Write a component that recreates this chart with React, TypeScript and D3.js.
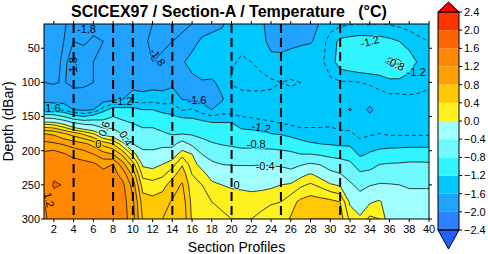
import * as d3 from "d3";
import React from "react";

// section profiles (x) and sampled depths in dBar (y)
const profiles = [
  1, 2, 3, 4, 5, 6, 7, 8, 9, 10, 11, 12, 13, 14, 15, 16, 17, 18, 19, 20,
  21, 22, 23, 24, 25, 26, 27, 28, 29, 30, 31, 32, 33, 34, 35, 36, 37, 38, 39, 40,
];
const depths = [14, 40, 70, 100, 125, 140, 150, 160, 175, 190, 205, 220, 235, 250, 275, 300];

// temperature (°C), one row per profile, one value per depth above
const temperature = [
  [-1.82, -1.84, -1.83, -1.8, -1.72, -1.31, -0.56, 0.15, 0.8, 1.06, 1.25, 1.3, 1.28, 1.22, 1.18, 1.15],
  [-1.83, -1.85, -1.84, -1.81, -1.72, -1.37, -0.6, 0.1, 0.76, 1.03, 1.3, 1.4, 1.52, 1.65, 1.42, 1.32],
  [-1.81, -1.8, -1.78, -1.79, -1.7, -1.45, -0.8, -0.06, 0.62, 0.98, 1.22, 1.38, 1.5, 1.58, 1.45, 1.35],
  [-1.77, -1.8, -1.84, -1.84, -1.72, -1.6, -1.1, -0.33, 0.5, 0.91, 1.14, 1.3, 1.38, 1.42, 1.42, 1.38],
  [-1.77, -1.79, -1.84, -1.83, -1.73, -1.64, -1.2, -0.48, 0.36, 0.85, 1.09, 1.27, 1.36, 1.4, 1.42, 1.4],
  [-1.78, -1.81, -1.8, -1.8, -1.72, -1.6, -1.09, -0.51, 0.2, 0.73, 1.0, 1.24, 1.33, 1.38, 1.4, 1.38],
  [-1.8, -1.8, -1.79, -1.77, -1.7, -1.31, -0.95, -0.65, -0.09, 0.53, 0.88, 1.13, 1.28, 1.33, 1.35, 1.33],
  [-1.8, -1.78, -1.76, -1.74, -1.66, -1.07, -0.8, -0.6, -0.2, 0.4, 0.8, 1.2, 1.28, 1.3, 1.3, 1.28],
  [-1.79, -1.76, -1.75, -1.72, -1.6, -1.1, -0.9, -0.71, -0.45, 0.07, 0.53, 0.88, 1.12, 1.24, 1.28, 1.3],
  [-1.8, -1.74, -1.73, -1.68, -1.5, -1.12, -0.96, -0.8, -0.6, -0.4, 0.13, 0.49, 0.75, 0.92, 1.05, 1.08],
  [-1.79, -1.78, -1.77, -1.72, -1.5, -1.2, -1.04, -0.88, -0.69, -0.51, -0.31, -0.04, 0.14, 0.31, 0.5, 0.58],
  [-1.8, -1.82, -1.8, -1.7, -1.47, -1.2, -1.04, -0.88, -0.69, -0.51, -0.32, -0.08, 0.11, 0.27, 0.47, 0.55],
  [-1.82, -1.82, -1.78, -1.7, -1.5, -1.26, -1.13, -0.98, -0.75, -0.49, -0.24, 0.0, 0.16, 0.32, 0.52, 0.6],
  [-1.83, -1.8, -1.75, -1.65, -1.48, -1.28, -1.17, -1.04, -0.84, -0.52, -0.15, 0.12, 0.33, 0.5, 0.62, 0.7],
  [-1.82, -1.78, -1.63, -1.72, -1.6, -1.42, -1.23, -1.07, -0.82, -0.23, 0.13, 0.38, 0.52, 0.62, 0.72, 0.76],
  [-1.8, -1.7, -1.5, -1.68, -1.62, -1.38, -1.24, -1.08, -0.85, -0.49, 0.0, 0.1, 0.2, 0.28, 0.34, 0.37],
  [-1.75, -1.55, -1.45, -1.62, -1.66, -1.5, -1.3, -1.13, -0.91, -0.67, -0.4, -0.1, 0.1, 0.2, 0.3, 0.35],
  [-1.7, -1.5, -1.45, -1.63, -1.68, -1.6, -1.38, -1.17, -0.97, -0.77, -0.55, -0.33, -0.11, 0.06, 0.2, 0.28],
  [-1.64, -1.48, -1.44, -1.55, -1.62, -1.51, -1.34, -1.18, -1.0, -0.82, -0.61, -0.4, -0.2, 0.0, 0.15, 0.25],
  [-1.5, -1.45, -1.42, -1.38, -1.5, -1.48, -1.35, -1.18, -1.02, -0.85, -0.65, -0.42, -0.22, -0.04, 0.14, 0.2],
  [-1.48, -1.44, -1.38, -1.36, -1.45, -1.46, -1.4, -1.35, -1.07, -0.88, -0.69, -0.42, -0.24, -0.06, 0.14, 0.2],
  [-1.46, -1.42, -1.4, -1.37, -1.43, -1.46, -1.42, -1.3, -1.14, -0.89, -0.67, -0.42, -0.26, -0.08, 0.12, 0.2],
  [-1.55, -1.5, -1.42, -1.38, -1.42, -1.45, -1.43, -1.36, -1.15, -0.92, -0.67, -0.41, -0.25, -0.07, 0.14, 0.25],
  [-1.72, -1.7, -1.5, -1.38, -1.43, -1.46, -1.44, -1.38, -1.2, -0.93, -0.67, -0.43, -0.24, -0.05, 0.18, 0.3],
  [-1.74, -1.72, -1.5, -1.4, -1.42, -1.45, -1.46, -1.4, -1.23, -0.95, -0.7, -0.45, -0.23, 0.0, 0.2, 0.3],
  [-1.73, -1.68, -1.46, -1.39, -1.43, -1.45, -1.46, -1.42, -1.3, -1.0, -0.73, -0.52, -0.26, 0.04, 0.32, 0.42],
  [-1.72, -1.64, -1.45, -1.4, -1.44, -1.45, -1.45, -1.43, -1.36, -1.1, -0.8, -0.44, -0.07, 0.16, 0.45, 0.55],
  [-1.7, -1.62, -1.44, -1.42, -1.44, -1.44, -1.44, -1.42, -1.37, -1.17, -0.8, -0.35, 0.03, 0.23, 0.5, 0.6],
  [-1.58, -1.52, -1.44, -1.42, -1.44, -1.45, -1.44, -1.42, -1.37, -1.2, -0.85, -0.42, -0.09, 0.15, 0.48, 0.6],
  [-1.5, -1.3, -1.32, -1.43, -1.45, -1.45, -1.44, -1.42, -1.36, -1.23, -0.89, -0.6, -0.26, 0.03, 0.46, 0.6],
  [-1.45, -1.15, -1.08, -1.42, -1.46, -1.5, -1.48, -1.44, -1.38, -1.26, -0.93, -0.64, -0.37, -0.03, 0.4, 0.5],
  [-1.42, -1.12, -1.02, -1.42, -1.5, -1.62, -1.5, -1.45, -1.38, -1.26, -1.0, -0.71, -0.55, -0.33, -0.04, 0.15],
  [-1.4, -1.1, -0.98, -1.4, -1.48, -1.5, -1.5, -1.48, -1.44, -1.36, -1.26, -1.0, -0.72, -0.53, -0.19, 0.05],
  [-1.42, -1.1, -0.95, -1.38, -1.5, -1.65, -1.55, -1.47, -1.42, -1.32, -1.17, -0.9, -0.72, -0.42, -0.03, 0.25],
  [-1.4, -1.12, -0.9, -1.36, -1.45, -1.5, -1.5, -1.46, -1.4, -1.3, -1.1, -0.8, -0.58, -0.37, 0.04, 0.2],
  [-1.42, -1.15, -0.72, -1.3, -1.45, -1.5, -1.5, -1.47, -1.42, -1.3, -1.06, -0.77, -0.58, -0.38, -0.22, -0.15],
  [-1.45, -1.2, -0.75, -1.3, -1.45, -1.5, -1.5, -1.46, -1.42, -1.3, -1.04, -0.76, -0.6, -0.4, -0.3, -0.25],
  [-1.45, -1.32, -1.05, -1.32, -1.43, -1.48, -1.49, -1.46, -1.42, -1.3, -1.0, -0.74, -0.58, -0.42, -0.33, -0.3],
  [-1.45, -1.38, -1.25, -1.35, -1.43, -1.47, -1.48, -1.45, -1.42, -1.3, -1.0, -0.74, -0.58, -0.42, -0.33, -0.3],
  [-1.45, -1.4, -1.3, -1.38, -1.43, -1.46, -1.47, -1.45, -1.42, -1.3, -1.0, -0.75, -0.58, -0.42, -0.33, -0.3],
];

const fillLevels = [-2.4, -2.0, -1.6, -1.2, -0.8, -0.4, 0, 0.4, 0.8, 1.2, 1.6, 2.0, 2.4];
const fillColors = [
  "#2060ff", "#2d80ff", "#20a2ff", "#00c8ff", "#30f5ff", "#70f8ff", "#a0ffff",
  "#fff020", "#ffc800", "#ffa000", "#ff8800", "#ff6400", "#ff3300", "#ff0000",
];
const lineLevels = [-1.8, -1.6, -1.4, -1.2, -0.8, -0.4, 0, 0.2, 0.4, 0.6, 0.8, 1.0, 1.2, 1.6];
const dashedLevels = [-1.4];
const sectionBreaks = [4, 8, 10, 14, 20, 25, 31];
const xTicks = [2, 4, 6, 8, 10, 12, 14, 16, 18, 20, 22, 24, 26, 28, 30, 32, 34, 36, 38, 40];
const yTicks = [50, 100, 150, 200, 250, 300];

const contourLabels = [
  { text: "-1.8", profile: 5.3, depth: 22, angle: 0 },
  { text: "-1.8", profile: 4, depth: 77, angle: -90 },
  { text: "-1.8", profile: 12.5, depth: 63, angle: 55 },
  { text: "1.6", profile: 1.9, depth: 138, angle: 0 },
  { text: "-1.2", profile: 9, depth: 128, angle: 0 },
  { text: "-1.6", profile: 16.5, depth: 126, angle: 0 },
  { text: "-1.2", profile: 23, depth: 166, angle: 10 },
  { text: "-0.8", profile: 22.5, depth: 190, angle: 0 },
  { text: "-0.4", profile: 23.4, depth: 222, angle: 0 },
  { text: "0", profile: 20.5, depth: 250, angle: 0 },
  { text: "1.2", profile: 1.5, depth: 272, angle: 75 },
  { text: "-1.2", profile: 34, depth: 40, angle: -15 },
  { text: "-0.8", profile: 36.6, depth: 73, angle: 25 },
  { text: "-1.2", profile: 38.7, depth: 85, angle: 0 },
  { text: "0.6", profile: 7.1, depth: 168, angle: -70 },
  { text: "0", profile: 6.5, depth: 191, angle: 0 },
  { text: "0.4", profile: 9.3, depth: 182, angle: 60 },
];

const FONT = "'Liberation Sans', Arial, Helvetica, sans-serif";

export default function App() {
  const ref = React.useRef<SVGSVGElement | null>(null);

  const width = 488;
  const height = 254;
  const margin = { top: 24, right: 59, bottom: 35, left: 44 };

  const drawElm = (node: SVGSVGElement) => {
    const svg = d3.select(node).attr("width", width).attr("height", height);
    svg.selectAll("*").remove();

    const x0 = margin.left;
    const x1 = width - margin.right;
    const y0 = margin.top;
    const y1 = height - margin.bottom;

    const xScale = d3.scaleLinear().domain([1, 40]).range([x0, x1]);
    const yScale = d3.scaleLinear().domain([14.5, 300]).range([y0, y1]);

    const nx = profiles.length;
    const ny = depths.length;
    const grid: number[] = [];
    for (let j = 0; j < ny; j++) {
      for (let i = 0; i < nx; i++) grid.push(temperature[i][j]);
    }

    // grid index -> data coordinates (piecewise, extrapolates past the edges)
    const colToProfile = d3.scaleLinear().domain(d3.range(nx)).range(profiles);
    const rowToDepth = d3.scaleLinear().domain(d3.range(ny)).range(depths);
    const depthToRow = d3.scaleLinear().domain(depths).range(d3.range(ny));

    const toScreen = d3.geoTransform({
      point: function (gx: number, gy: number) {
        this.stream.point(xScale(colToProfile(gx - 0.5)), yScale(rowToDepth(gy - 0.5)));
      },
    });
    const path = d3.geoPath(toScreen);

    const color = d3.scaleThreshold<number, string>().domain(fillLevels).range(fillColors);

    const sample = (p: number, d: number) => {
      const fx = p - 1;
      const fy = depthToRow(d);
      const i0 = Math.max(0, Math.min(nx - 2, Math.floor(fx)));
      const j0 = Math.max(0, Math.min(ny - 2, Math.floor(fy)));
      const tx = fx - i0;
      const ty = fy - j0;
      const v = (i: number, j: number) => temperature[i][j];
      return (
        v(i0, j0) * (1 - tx) * (1 - ty) +
        v(i0 + 1, j0) * tx * (1 - ty) +
        v(i0, j0 + 1) * (1 - tx) * ty +
        v(i0 + 1, j0 + 1) * tx * ty
      );
    };

    svg.append("rect").attr("width", width).attr("height", height).attr("fill", "#fff");

    svg
      .append("defs")
      .append("clipPath")
      .attr("id", "plot-clip")
      .append("rect")
      .attr("x", x0)
      .attr("y", y0)
      .attr("width", x1 - x0)
      .attr("height", y1 - y0);

    const plot = svg.append("g").attr("clip-path", "url(#plot-clip)");

    plot
      .append("rect")
      .attr("x", x0)
      .attr("y", y0)
      .attr("width", x1 - x0)
      .attr("height", y1 - y0)
      .attr("fill", color(-2.2));

    const bands = d3.contours().size([nx, ny]).thresholds(fillLevels.slice(1, -1))(grid);
    plot
      .append("g")
      .selectAll("path")
      .data(bands)
      .join("path")
      .attr("d", (d) => path(d as any))
      .attr("fill", (d) => color(d.value + 0.2));

    const isolines = d3.contours().size([nx, ny]).thresholds(lineLevels)(grid);
    plot
      .append("g")
      .selectAll("path")
      .data(isolines)
      .join("path")
      .attr("d", (d) => path(d as any))
      .attr("fill", "none")
      .attr("stroke", "#111")
      .attr("stroke-width", 0.8)
      .attr("stroke-linejoin", "round")
      .attr("stroke-dasharray", (d) => (dashedLevels.includes(d.value) ? "4 3" : null));

    // contour labels, with a halo in the local fill colour
    plot
      .append("g")
      .selectAll("text")
      .data(contourLabels)
      .join("text")
      .attr(
        "transform",
        (d) => `translate(${xScale(d.profile)},${yScale(d.depth)}) rotate(${d.angle})`
      )
      .attr("text-anchor", "middle")
      .attr("dy", "0.35em")
      .attr("font-family", FONT)
      .attr("font-size", 11)
      .attr("fill", "#000")
      .attr("stroke", (d) => color(sample(d.profile, d.depth)))
      .attr("stroke-width", 2)
      .attr("paint-order", "stroke")
      .text((d) => d.text);

    // section break lines
    plot
      .append("g")
      .selectAll("line")
      .data(sectionBreaks)
      .join("line")
      .attr("x1", (d) => xScale(d))
      .attr("x2", (d) => xScale(d))
      .attr("y1", y0)
      .attr("y2", y1)
      .attr("stroke", "#000")
      .attr("stroke-width", 2)
      .attr("stroke-dasharray", "9 5");

    // frame
    svg
      .append("rect")
      .attr("x", x0)
      .attr("y", y0)
      .attr("width", x1 - x0)
      .attr("height", y1 - y0)
      .attr("fill", "none")
      .attr("stroke", "#000")
      .attr("stroke-width", 1);

    const axes = svg.append("g").attr("stroke", "#000").attr("stroke-width", 1);
    xTicks.forEach((t) => {
      const px = xScale(t);
      axes.append("line").attr("x1", px).attr("x2", px).attr("y1", y1).attr("y2", y1 + 3);
      axes.append("line").attr("x1", px).attr("x2", px).attr("y1", y0).attr("y2", y0 - 3);
    });
    yTicks.forEach((t) => {
      const py = yScale(t);
      axes.append("line").attr("x1", x0 - 3).attr("x2", x0).attr("y1", py).attr("y2", py);
      axes.append("line").attr("x1", x1).attr("x2", x1 + 3).attr("y1", py).attr("y2", py);
    });

    svg
      .append("g")
      .selectAll("text")
      .data(xTicks)
      .join("text")
      .attr("x", (d) => xScale(d))
      .attr("y", 233)
      .attr("text-anchor", "middle")
      .attr("font-family", FONT)
      .attr("font-size", 11)
      .text((d) => d);

    svg
      .append("g")
      .selectAll("text")
      .data(yTicks)
      .join("text")
      .attr("x", x0 - 4)
      .attr("y", (d) => yScale(d))
      .attr("dy", "0.35em")
      .attr("text-anchor", "end")
      .attr("font-family", FONT)
      .attr("font-size", 11)
      .text((d) => d);

    svg
      .append("text")
      .attr("x", 71)
      .attr("y", 17)
      .attr("font-family", FONT)
      .attr("font-size", 16)
      .attr("font-weight", "bold")
      .attr("xml:space", "preserve")
      .style("white-space", "pre")
      .text("SCICEX97 / Section-A / Temperature   (°C)");

    svg
      .append("text")
      .attr("x", (x0 + x1) / 2)
      .attr("y", 252)
      .attr("text-anchor", "middle")
      .attr("font-family", FONT)
      .attr("font-size", 14)
      .text("Section Profiles");

    svg
      .append("text")
      .attr("transform", `translate(12.7,${(y0 + y1) / 2}) rotate(-90)`)
      .attr("text-anchor", "middle")
      .attr("font-family", FONT)
      .attr("font-size", 14)
      .text("Depth (dBar)");

    // colour bar
    const cbX0 = 438;
    const cbX1 = 459;
    const cbScale = d3.scaleLinear().domain([-2.4, 2.4]).range([230, 12]);
    const cb = svg.append("g");
    const cbBands = d3.range(fillLevels.length - 1).map((i) => [fillLevels[i], fillLevels[i + 1]]);
    cb.selectAll("rect")
      .data(cbBands)
      .join("rect")
      .attr("x", cbX0)
      .attr("width", cbX1 - cbX0)
      .attr("y", (d) => cbScale(d[1]))
      .attr("height", (d) => cbScale(d[0]) - cbScale(d[1]))
      .attr("fill", (d) => color((d[0] + d[1]) / 2));
    const cx = (cbX0 + cbX1) / 2;
    cb.append("path")
      .attr("d", `M${cbX0},${cbScale(2.4)}L${cx},2L${cbX1},${cbScale(2.4)}Z`)
      .attr("fill", color(3))
      .attr("stroke", "#000");
    cb.append("path")
      .attr("d", `M${cbX0},${cbScale(-2.4)}L${cx},249L${cbX1},${cbScale(-2.4)}Z`)
      .attr("fill", color(-3))
      .attr("stroke", "#000");
    cb.append("rect")
      .attr("x", cbX0)
      .attr("y", cbScale(2.4))
      .attr("width", cbX1 - cbX0)
      .attr("height", cbScale(-2.4) - cbScale(2.4))
      .attr("fill", "none")
      .attr("stroke", "#000");
    cb.selectAll("line")
      .data(fillLevels)
      .join("line")
      .attr("x1", cbX1)
      .attr("x2", cbX1 + 3)
      .attr("y1", (d) => cbScale(d))
      .attr("y2", (d) => cbScale(d))
      .attr("stroke", "#000");
    cb.selectAll("text")
      .data(fillLevels)
      .join("text")
      .attr("x", cbX1 + 5)
      .attr("y", (d) => cbScale(d))
      .attr("dy", "0.35em")
      .attr("font-family", FONT)
      .attr("font-size", 11)
      .text((d) => d3.format(".1f")(d).replace("-", "\u2212"));
  };

  React.useEffect(() => {
    if (ref.current) drawElm(ref.current);
  });

  return (
    <svg
      ref={ref}
      width={width}
      height={height}
      style={{ position: "absolute", left: 0, top: 0, display: "block" }}
    />
  );
}
